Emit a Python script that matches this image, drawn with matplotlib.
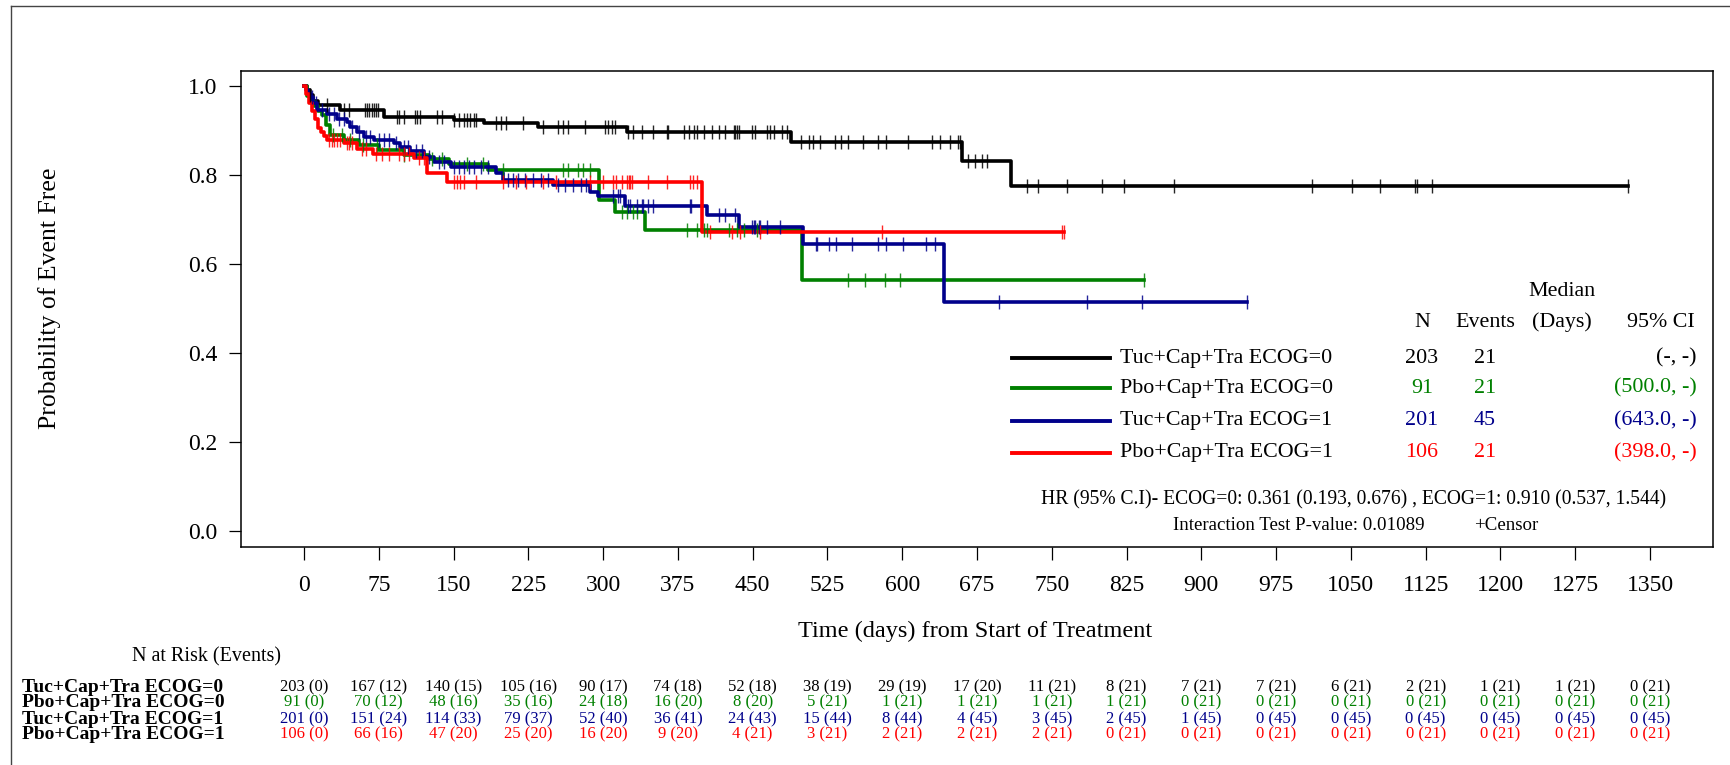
import numpy as np
import matplotlib
matplotlib.use("Agg")
import matplotlib.pyplot as plt
from matplotlib.lines import Line2D
from matplotlib.transforms import blended_transform_factory

plt.rcParams['font.family'] = ['Liberation Serif', 'DejaVu Serif']

# ---------------- data ----------------
groups = ["Tuc+Cap+Tra ECOG=0", "Pbo+Cap+Tra ECOG=0",
          "Tuc+Cap+Tra ECOG=1", "Pbo+Cap+Tra ECOG=1"]
colors = ["#000000", "#008000", "#00008B", "#FF0000"]

# Kaplan-Meier step points (time in days, survival after the step)
tuc0_t = [0, 3, 6, 9, 14, 36, 80, 150, 181, 235, 324, 488, 660, 709]
tuc0_s = [1.0, 0.990, 0.980, 0.966, 0.957, 0.946, 0.930, 0.924, 0.916, 0.907, 0.897, 0.875, 0.832, 0.776]
tuc0_c = [6, 23, 40, 45, 61, 63, 65, 68, 70, 72, 74, 93, 95, 100, 111, 113, 116, 133, 138, 150,
          155, 160, 163, 166, 170, 173, 193, 198, 203, 220, 240, 255, 260, 265, 282, 302, 305,
          309, 312, 325, 330, 339, 350, 364, 365, 381, 386, 391, 394, 401, 409, 416, 422, 431,
          432, 434, 436, 449, 452, 464, 467, 471, 479, 484, 498, 506, 511, 518, 533, 539, 546,
          561, 576, 584, 606, 630, 638, 648, 656, 658, 666, 673, 680, 685, 725, 736, 765, 800,
          822, 873, 1011, 1051, 1079, 1114, 1116, 1131, 1328]

pbo0_t = [0, 3, 6, 10, 14, 18, 22, 26, 40, 55, 75, 100, 125, 145, 185, 296, 312, 342, 499]
pbo0_s = [1.0, 0.978, 0.967, 0.956, 0.945, 0.934, 0.912, 0.890, 0.879, 0.868, 0.857, 0.846,
          0.835, 0.824, 0.812, 0.745, 0.718, 0.677, 0.565]
pbo0_c = [29, 38, 46, 59, 73, 100, 128, 138, 163, 180, 200, 260, 265, 275, 280, 287, 319, 324,
          330, 334, 384, 394, 401, 404, 426, 434, 441, 454, 546, 563, 583, 598, 843]

tuc1_t = [0, 2, 4, 6, 9, 13, 23, 33, 43, 46, 53, 60, 70, 90, 96, 106, 120, 130, 147, 193, 200,
          250, 287, 295, 322, 404, 436, 500, 642]
tuc1_s = [1.0, 0.990, 0.985, 0.975, 0.961, 0.946, 0.937, 0.927, 0.920, 0.909, 0.897, 0.886,
          0.879, 0.871, 0.862, 0.853, 0.841, 0.830, 0.819, 0.804, 0.789, 0.778, 0.763, 0.752,
          0.731, 0.710, 0.683, 0.645, 0.516]
tuc1_c = [8, 12, 18, 25, 30, 35, 40, 48, 55, 62, 66, 75, 80, 85, 92, 100, 104, 112, 118, 125,
          135, 140, 150, 155, 160, 165, 170, 178, 185, 205, 210, 215, 222, 230, 238, 245, 255,
          262, 270, 278, 283, 310, 315, 317, 325, 327, 334, 339, 340, 345, 350, 387, 388, 416,
          422, 432, 449, 451, 452, 456, 457, 464, 477, 514, 515, 527, 534, 550, 576, 584, 601,
          624, 633, 697, 785, 840, 946]

pbo1_t = [0, 2, 5, 8, 11, 14, 17, 20, 23, 40, 53, 69, 110, 123, 143, 399]
pbo1_s = [1.0, 0.981, 0.962, 0.943, 0.925, 0.906, 0.896, 0.887, 0.879, 0.871, 0.858, 0.847,
          0.838, 0.804, 0.785, 0.673]
pbo1_c = [25, 28, 30, 33, 36, 43, 45, 48, 58, 62, 72, 78, 85, 95, 100, 105, 115, 120, 150, 153,
          156, 160, 173, 200, 213, 223, 240, 253, 287, 300, 310, 313, 319, 324, 326, 327, 329,
          345, 364, 387, 390, 394, 407, 429, 437, 457, 580, 760, 762]

# summary table
n_pat = [203, 91, 201, 106]
n_evt = [21, 21, 45, 21]
ci_txt = ["(-, -)", "(500.0, -)", "(643.0, -)", "(398.0, -)"]

# axis ticks
x_ticks = [0, 75, 150, 225, 300, 375, 450, 525, 600, 675, 750, 825, 900, 975, 1050, 1125,
           1200, 1275, 1350]
y_ticks = [0.0, 0.2, 0.4, 0.6, 0.8, 1.0]

# number at risk (events) at each x tick
risk_tuc0 = [203, 167, 140, 105, 90, 74, 52, 38, 29, 17, 11, 8, 7, 7, 6, 2, 1, 1, 0]
evt_tuc0 = [0, 12, 15, 16, 17, 18, 18, 19, 19, 20, 21, 21, 21, 21, 21, 21, 21, 21, 21]
risk_pbo0 = [91, 70, 48, 35, 24, 16, 8, 5, 1, 1, 1, 1, 0, 0, 0, 0, 0, 0, 0]
evt_pbo0 = [0, 12, 16, 16, 18, 20, 20, 21, 21, 21, 21, 21, 21, 21, 21, 21, 21, 21, 21]
risk_tuc1 = [201, 151, 114, 79, 52, 36, 24, 15, 8, 4, 3, 2, 1, 0, 0, 0, 0, 0, 0]
evt_tuc1 = [0, 24, 33, 37, 40, 41, 43, 44, 44, 45, 45, 45, 45, 45, 45, 45, 45, 45, 45]
risk_pbo1 = [106, 66, 47, 25, 16, 9, 4, 3, 2, 2, 2, 0, 0, 0, 0, 0, 0, 0, 0]
evt_pbo1 = [0, 16, 20, 20, 20, 20, 21, 21, 21, 21, 21, 21, 21, 21, 21, 21, 21, 21, 21]

# ---------------- figure ----------------
W, H = 1730, 765
fig = plt.figure(figsize=(W / 100, H / 100), dpi=100)


def fx(px):
    return px / W


def fy(py):
    return 1 - py / H


ax_l, ax_r, ax_t, ax_b = 240.7, 1712.7, 70.7, 547.3
ax = fig.add_axes([fx(ax_l), fy(ax_b), fx(ax_r - ax_l), (ax_b - ax_t) / H])
ax.set_xlim(-63.5, 1412.9)
ax.set_ylim(-0.0359, 1.0344)

curves = [(tuc0_t, tuc0_s, tuc0_c), (pbo0_t, pbo0_s, pbo0_c),
          (tuc1_t, tuc1_s, tuc1_c), (pbo1_t, pbo1_s, pbo1_c)]

for (t, s, c), col in zip(curves, colors):
    t = np.asarray(t, float)
    s = np.asarray(s, float)
    c = np.asarray(c, float)
    t_end = max(c.max(), t[-1])
    xs = np.append(t, t_end)
    ys = np.append(s, s[-1])
    ax.step(xs, ys, where='post', color=col, lw=2.6, zorder=3)
    idx = np.searchsorted(t, c, side='right') - 1
    ax.plot(c, s[idx], ls='none', marker='|', ms=10, mew=1.0, color=col, alpha=0.85, zorder=4)

ax.set_xticks(x_ticks)
ax.set_xticklabels([str(v) for v in x_ticks])
ax.set_yticks(y_ticks)
ax.set_yticklabels([f"{v:.1f}" for v in y_ticks])
ax.tick_params(axis='both', direction='out', length=9, width=0.9, labelsize=17, colors='black')
ax.tick_params(axis='y', pad=8)
ax.tick_params(axis='x', pad=11)
for sp in ax.spines.values():
    sp.set_linewidth(1.1)

fig.text(fx(50), fy(298), "Probability of Event Free", rotation=90, ha='center', va='center',
         fontsize=18.5)
fig.text(fx(975), fy(631), "Time (days) from Start of Treatment", ha='center', va='center',
         fontsize=17.5)

# legend + summary
leg_rows = [358.3, 388.3, 420.7, 452.7]
for i, (g, col) in enumerate(zip(groups, colors)):
    yy = fy(leg_rows[i])
    fig.add_artist(Line2D([fx(1012), fx(1110)], [yy, yy], color=col, lw=2.8))
    fig.text(fx(1120), yy, g, ha='left', va='center', fontsize=15.8, color='black')
    fig.text(fx(1422), yy, str(n_pat[i]), ha='center', va='center', fontsize=15.8, color=col)
    fig.text(fx(1485), yy, str(n_evt[i]), ha='center', va='center', fontsize=15.8, color=col)
    fig.text(fx(1697), yy, ci_txt[i], ha='right', va='center', fontsize=15.8, color=col)

fig.text(fx(1562), fy(291), "Median", ha='center', va='center', fontsize=15.8)
fig.text(fx(1422), fy(322), "N", ha='center', va='center', fontsize=15.8)
fig.text(fx(1485), fy(322), "Events", ha='center', va='center', fontsize=15.8)
fig.text(fx(1562), fy(322), "(Days)", ha='center', va='center', fontsize=15.8)
fig.text(fx(1661), fy(322), "95% CI", ha='center', va='center', fontsize=15.8)

fig.text(fx(1354), fy(500),
         "HR (95% C.I)- ECOG=0: 0.361 (0.193, 0.676) , ECOG=1: 0.910 (0.537, 1.544)",
         ha='center', va='center', fontsize=14.1)
fig.text(fx(1299), fy(525), "Interaction Test P-value: 0.01089", ha='center', va='center',
         fontsize=13.6)
fig.text(fx(1506), fy(525), "+Censor", ha='center', va='center', fontsize=13.6)

# risk table
tr = blended_transform_factory(ax.transData, fig.transFigure)
fig.text(fx(207), fy(657), "N at Risk (Events)", ha='center', va='center', fontsize=14.5)
risk_rows = [(risk_tuc0, evt_tuc0), (risk_pbo0, evt_pbo0), (risk_tuc1, evt_tuc1), (risk_pbo1, evt_pbo1)]
row_y = [687, 702.5, 719, 734.5]
for i, ((r, e), col) in enumerate(zip(risk_rows, colors)):
    fig.text(fx(22), fy(row_y[i]), groups[i], ha='left', va='center', fontsize=14,
             fontweight='bold', color='black')
    for xv, rv, ev in zip(x_ticks, r, e):
        ax.text(xv, fy(row_y[i]), f"{rv} ({ev})", transform=tr, ha='center', va='center',
                fontsize=12, color=col, clip_on=False)

# outer frame (top and left edges)
fig.add_artist(Line2D([fx(11), fx(1730)], [fy(6), fy(6)], color='#444444', lw=1.0))
fig.add_artist(Line2D([fx(11), fx(11)], [fy(6), fy(765)], color='#444444', lw=1.0))

fig.savefig("out.png", dpi=100)
